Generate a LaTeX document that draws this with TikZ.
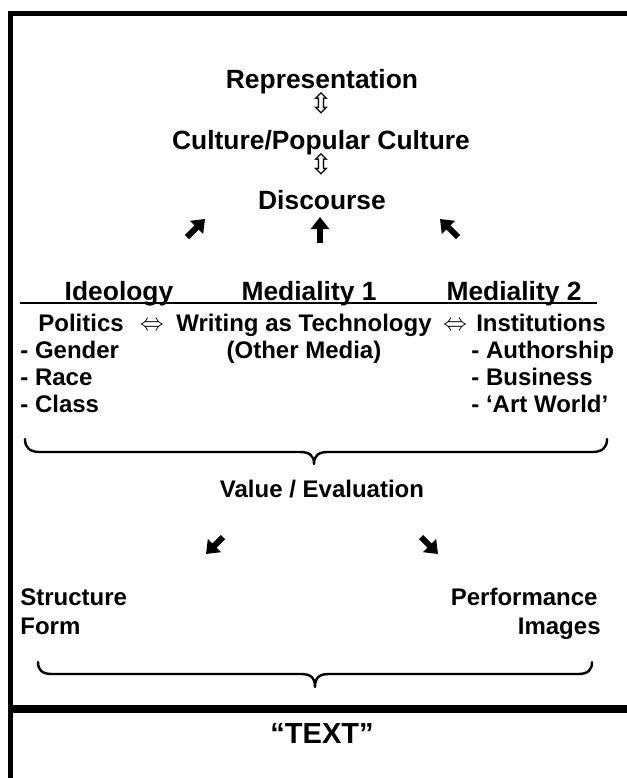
\documentclass[tikz,border=0pt]{standalone}
\usepackage{fontspec}
\setmainfont{Liberation Sans}
\newfontfamily\dejavu{DejaVu Sans}
\usetikzlibrary{arrows.meta}
\tikzset{
  big/.style={inner sep=0pt, font=\bfseries\fontsize{13.2}{16}\selectfont},
  txt/.style={inner sep=0pt, font=\bfseries\fontsize{12}{14}\selectfont},
  huge/.style={inner sep=0pt, font=\bfseries\fontsize{14.5}{17}\selectfont},
  sym/.style={inner sep=0pt, font=\dejavu\fontsize{14}{16}\selectfont},
  lrsym/.style={inner sep=0pt, font=\fontsize{12}{14}\selectfont},
  frame/.style={line width=2.5pt, line cap=rect},
  midrule/.style={line width=4pt},
  brace/.style={line width=1.2pt, line cap=round, line join=round},
  fat/.style={line width=3pt, -{Triangle[length=6pt,width=9pt]}},
  hrule/.style={line width=1.3pt}
}
\begin{document}
\begin{tikzpicture}[x=0.5pt,y=-0.5pt]
\useasboundingbox (0,0) rectangle (627,778);
% frame
\draw[frame] (10,778) -- (10,13) -- (627,13);
\draw[midrule] (10,709) -- (627,709);
% top chain
\node[big, anchor=base] (rep) at (322,88) {Representation};
\node[sym] (ud1) at (321,103) {⇳};
\node[big, anchor=base] (cul) at (321,149) {Culture/Popular Culture};
\node[sym] (ud2) at (321,164) {⇳};
\node[big, anchor=base] (dis) at (322,209) {Discourse};
% arrows to discourse
\coordinate (a1s) at (187,237); \coordinate (a1e) at (205,219);
\coordinate (a2s) at (320,243); \coordinate (a2e) at (320,217);
\coordinate (a3s) at (458,237); \coordinate (a3e) at (440,219);
\draw[fat] (a1s) -- (a1e);
\draw[fat] (a2s) -- (a2e);
\draw[fat] (a3s) -- (a3e);
% headings
\node[big, anchor=base] (ideo) at (119,300) {Ideology};
\node[big, anchor=base] (med1) at (309,300) {Mediality 1};
\node[big, anchor=base] (med2) at (514,300) {Mediality 2};
\coordinate (rl) at (20,303); \coordinate (rr) at (597,303);
\draw[hrule] (rl) -- (rr);
% row
\node[txt, anchor=base west] (pol) at (38,331) {Politics};
\node[lrsym, anchor=base] (lr1) at (152,330) {$\Leftrightarrow$};
\node[txt, anchor=base] (wat) at (304,331) {Writing as Technology};
\node[lrsym, anchor=base] (lr2) at (455,330) {$\Leftrightarrow$};
\node[txt, anchor=base east] (ins) at (606,331) {Institutions};
\node[txt, anchor=base] (om) at (304,358) {(Other Media)};
\node[txt, anchor=base west] (gen) at (20,358) {- Gender};
\node[txt, anchor=base west] (rac) at (20,385) {- Race};
\node[txt, anchor=base west] (cla) at (20,412) {- Class};
\node[txt, anchor=base west] (aut) at (471,358) {- Authorship};
\node[txt, anchor=base west] (bus) at (471,385) {- Business};
\node[txt, anchor=base west] (art) at (471,412) {- ‘Art World’};
% brace 1
\draw[brace] (25,439) .. controls (25,448) and (30,452) .. (40,452) -- (300,452)
  .. controls (309,452) and (314,455) .. (314,464)
  .. controls (314,455) and (319,452) .. (328,452) -- (592,452)
  .. controls (602,452) and (607,448) .. (607,439);
\node[txt, anchor=base] (val) at (322,497) {Value / Evaluation};
% arrows from value
\coordinate (b1s) at (223,537); \coordinate (b1e) at (206,554);
\coordinate (b2s) at (421,537); \coordinate (b2e) at (438,554);
\draw[fat] (b1s) -- (b1e);
\draw[fat] (b2s) -- (b2e);
% lower labels
\node[txt, anchor=base west] (str) at (20,605) {Structure};
\node[txt, anchor=base west] (frm) at (20,634) {Form};
\node[txt, anchor=base east] (per) at (598,605) {Performance};
\node[txt, anchor=base east] (img) at (601,634) {Images};
% brace 2
\draw[brace] (38,662) .. controls (38,670) and (42,674) .. (52,674) -- (301,674)
  .. controls (310,674) and (315,677) .. (315,687)
  .. controls (315,677) and (320,674) .. (329,674) -- (578,674)
  .. controls (588,674) and (592,670) .. (592,662);
\node[huge, anchor=base] (text) at (322,743) {“TEXT”};
\end{tikzpicture}
\end{document}
